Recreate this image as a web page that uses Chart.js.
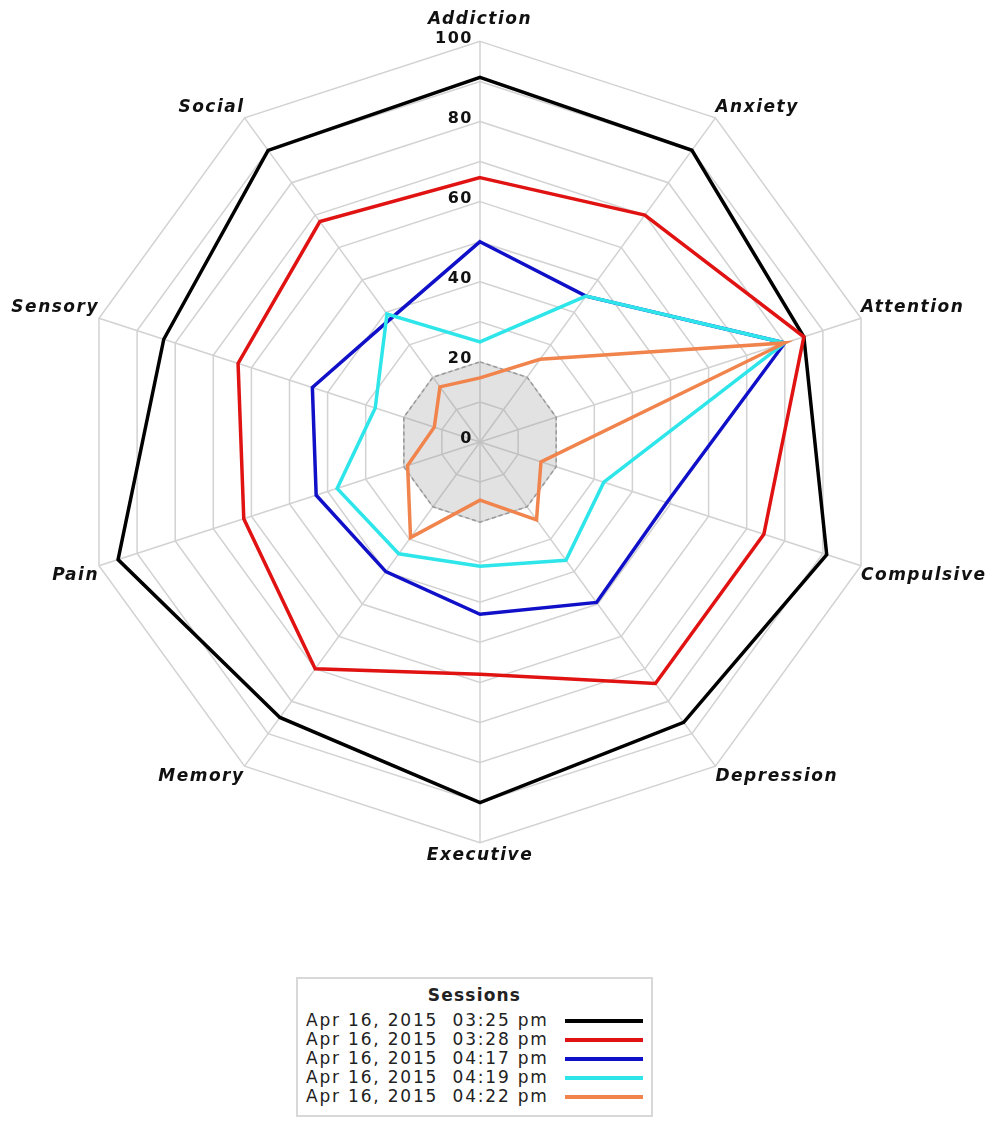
<!DOCTYPE html>
<html>
<head>
<meta charset="utf-8">
<script src="https://cdn.jsdelivr.net/npm/chart.js@4/dist/chart.umd.min.js"></script>
<style>
  body { margin: 0; background: #fff; overflow: hidden; width: 988px; height: 1123px; position: relative; }
  #chart { position: absolute; left: -70px; top: 0; }
  #legend {
    position: absolute; left: 296px; top: 977px; width: 353px; height: 136px;
    border: 2px solid #d8d8d8; font-family: "DejaVu Sans", sans-serif; color: #222;
  }
  #legend .title { text-align: center; font-weight: bold; font-size: 17px; letter-spacing: 1.2px; line-height: 20px; margin-top: 6px; margin-bottom: 6px; }
  #legend .row { position: relative; height: 19px; line-height: 19px; font-size: 17px; letter-spacing: 1.8px; white-space: pre; padding-left: 8px; }
  #legend .swatch { position: absolute; left: 267px; top: 8px; width: 78px; height: 4px; }
</style>
</head>
<body>
<canvas id="chart" width="1100" height="871"></canvas>
<div id="legend"></div>
<script>
// axes, clockwise from the top
const categories = ['Addiction', 'Anxiety', 'Attention', 'Compulsive', 'Depression',
                    'Executive', 'Memory', 'Pain', 'Sensory', 'Social'];
const tickValues = [0, 20, 40, 60, 80, 100];

const sessionLabels = [
  'Apr 16, 2015  03:25 pm',
  'Apr 16, 2015  03:28 pm',
  'Apr 16, 2015  04:17 pm',
  'Apr 16, 2015  04:19 pm',
  'Apr 16, 2015  04:22 pm'
];
const sessionColors = ['#000000', '#e01212', '#1010c8', '#2ee6ea', '#f0844c'];

const session1 = [91, 90, 85, 91, 86.5, 90, 85, 95, 83, 90];
const session2 = [66, 70, 85, 74.5, 74.5, 58, 70, 62, 63.5, 68];
const session3 = [50, 45, 80, 49, 49.5, 43, 40, 43, 44, 38];
const session4 = [25, 45, 80, 32.5, 36.5, 31, 34.5, 37.5, 27.5, 39.5];
const session5 = [16, 25.5, 80, 16, 24, 14.5, 29.5, 19, 12, 17];
const baseline = [20, 20, 20, 20, 20, 20, 20, 20, 20, 20];

const sessionData = [session1, session2, session3, session4, session5];

const datasets = sessionData.map((values, i) => ({
  label: sessionLabels[i],
  data: values,
  borderColor: sessionColors[i],
  borderWidth: 3.5,
  fill: false,
  pointRadius: 0,
  order: 5 - i
}));

// shaded normal band round the centre
datasets.push({
  label: 'baseline',
  data: baseline,
  borderColor: '#9a9a9a',
  borderWidth: 1.5,
  borderDash: [4, 3],
  backgroundColor: 'rgba(150,150,150,0.28)',
  fill: true,
  pointRadius: 0,
  order: 10
});

// letter spacing for the axis labels, set again after each canvas reset
const spacing = {
  id: 'spacing',
  beforeLayout(chart) { chart.ctx.letterSpacing = '1.5px'; },
  beforeDraw(chart) { chart.ctx.letterSpacing = '1.5px'; }
};

// tick numbers sit left of the vertical axis, 0 included
const tickText = {
  id: 'tickText',
  afterDraw(chart) {
    const scale = chart.scales.r;
    const ctx = chart.ctx;
    ctx.save();
    ctx.font = 'bold 16px "DejaVu Sans"';
    ctx.letterSpacing = '1.5px';
    ctx.fillStyle = '#111';
    ctx.textAlign = 'right';
    ctx.textBaseline = 'middle';
    tickValues.forEach(v => {
      const y = scale.yCenter - scale.getDistanceFromCenterForValue(v);
      ctx.fillText(String(v), scale.xCenter - 7, y - 3);
    });
    ctx.restore();
  }
};

new Chart(document.getElementById('chart'), {
  type: 'radar',
  data: { labels: categories, datasets: datasets },
  plugins: [spacing, tickText],
  options: {
    responsive: false,
    animation: false,
    devicePixelRatio: 1,
    layout: { padding: { top: 5 } },
    plugins: { legend: { display: false }, tooltip: { enabled: false } },
    elements: { line: { tension: 0 } },
    scales: {
      r: {
        min: 0,
        max: 100,
        ticks: { stepSize: 10, display: false },
        grid: { color: '#d2d2d2', lineWidth: 1.5 },
        angleLines: { color: '#d2d2d2', lineWidth: 1.5 },
        pointLabels: {
          color: '#111',
          font: { family: 'DejaVu Sans', size: 17, weight: 'bold', style: 'italic' },
          padding: ctx => ctx.index === 0 ? 12 : (ctx.index === 5 ? 3 : 0)
        }
      }
    }
  }
});

// legend box under the chart
const legend = document.getElementById('legend');
const title = document.createElement('div');
title.className = 'title';
title.textContent = 'Sessions';
legend.appendChild(title);
sessionLabels.forEach((label, i) => {
  const row = document.createElement('div');
  row.className = 'row';
  row.textContent = label;
  const swatch = document.createElement('span');
  swatch.className = 'swatch';
  swatch.style.background = sessionColors[i];
  row.appendChild(swatch);
  legend.appendChild(row);
});
</script>
</body>
</html>
